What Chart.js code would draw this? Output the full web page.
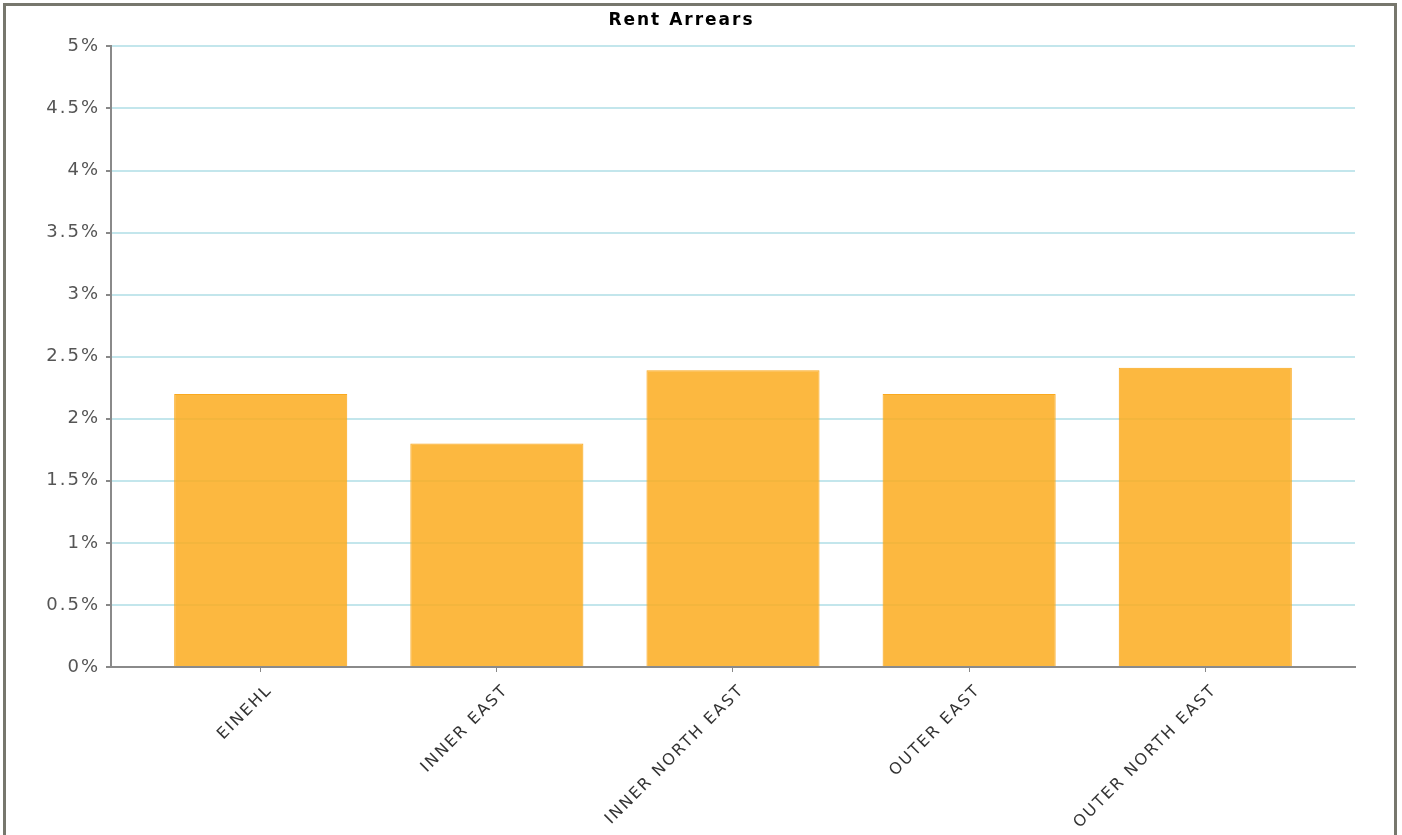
<!DOCTYPE html>
<html>
<head>
<meta charset="utf-8">
<script src="https://cdn.jsdelivr.net/npm/chart.js@4/dist/chart.umd.min.js"></script>
<style>
  html, body { margin: 0; padding: 0; background: #fff; overflow: hidden; }
  #wrap { position: relative; width: 1402px; height: 835px; }
  #frame {
    position: absolute; left: 3px; top: 3px; width: 1388px; height: 900px;
    border: 3px solid #77776d; border-bottom: none; pointer-events: none;
  }
</style>
</head>
<body>
<div id="wrap">
  <canvas id="chart" width="1402" height="835"></canvas>
  <div id="frame"></div>
</div>
<script>
// chart data
const areas = ["EINEHL", "INNER EAST", "INNER NORTH EAST", "OUTER EAST", "OUTER NORTH EAST"];
const arrears = [2.2, 1.8, 2.39, 2.2, 2.41];
const yTicks = [0, 0.5, 1, 1.5, 2, 2.5, 3, 3.5, 4, 4.5, 5];

// the old chart spaced its letters out a bit
const spacing = {
    id: "spacing",
    beforeUpdate: chart => { chart.ctx.letterSpacing = "2px"; },
    beforeDraw: chart => { chart.ctx.letterSpacing = "2px"; }
};

const ctx = document.getElementById("chart").getContext("2d");
const myChart = new Chart(ctx, {
    type: "bar",
    data: {
        datasets: [{
            label: "Rent Arrears",
            data: areas.map((a, i) => ({ x: i, y: arrears[i] })),
            backgroundColor: "rgba(252, 172, 30, 0.85)",
            borderColor: "rgba(250, 164, 18, 0.95)",
            borderWidth: 1,
            barPercentage: 0.733,
            categoryPercentage: 1
        }]
    },
    options: {
        responsive: false,
        animation: false,
        layout: { padding: { left: 8, right: 47, top: 6, bottom: 0 } },
        plugins: {
            legend: { display: false },
            tooltip: { enabled: false },
            title: {
                display: true,
                text: "Rent Arrears",
                color: "#000",
                font: { family: "DejaVu Sans", size: 17, weight: "bold" },
                padding: { top: 4, bottom: 16 }
            }
        },
        scales: {
            x: {
                type: "linear",
                offset: false,
                min: -0.634,
                max: 4.634,
                afterFit: s => { s.height = 835 - 667; },
                grid: { offset: false, drawOnChartArea: false, drawTicks: true, tickLength: 5, tickColor: "#888" },
                border: { color: "#8a8a8a", width: 2 },
                ticks: {
                    stepSize: 1,
                    includeBounds: false,
                    autoSkip: false,
                    maxRotation: 45,
                    minRotation: 45,
                    padding: 9,
                    labelOffset: 9,
                    color: "#333",
                    font: { family: "DejaVu Sans", size: 16 },
                    callback: v => areas[v] !== undefined ? areas[v] : ""
                }
            },
            y: {
                min: 0,
                max: 5,
                afterFit: s => { s.width = 111 - 8; },
                afterBuildTicks: s => { s.ticks = yTicks.map(v => ({ value: v })); },
                grid: {
                    color: c => c.tick && c.tick.value === 0 ? "rgba(0,0,0,0)" : "#c3e6ec",
                    lineWidth: 2,
                    tickLength: 5,
                    tickColor: "#888"
                },
                border: { color: "#8a8a8a", width: 2 },
                ticks: {
                    padding: 6,
                    color: "#555",
                    font: { family: "DejaVu Sans", size: 18 },
                    callback: v => v + "%"
                }
            }
        }
    },
    plugins: [spacing]
});
</script>
</body>
</html>
